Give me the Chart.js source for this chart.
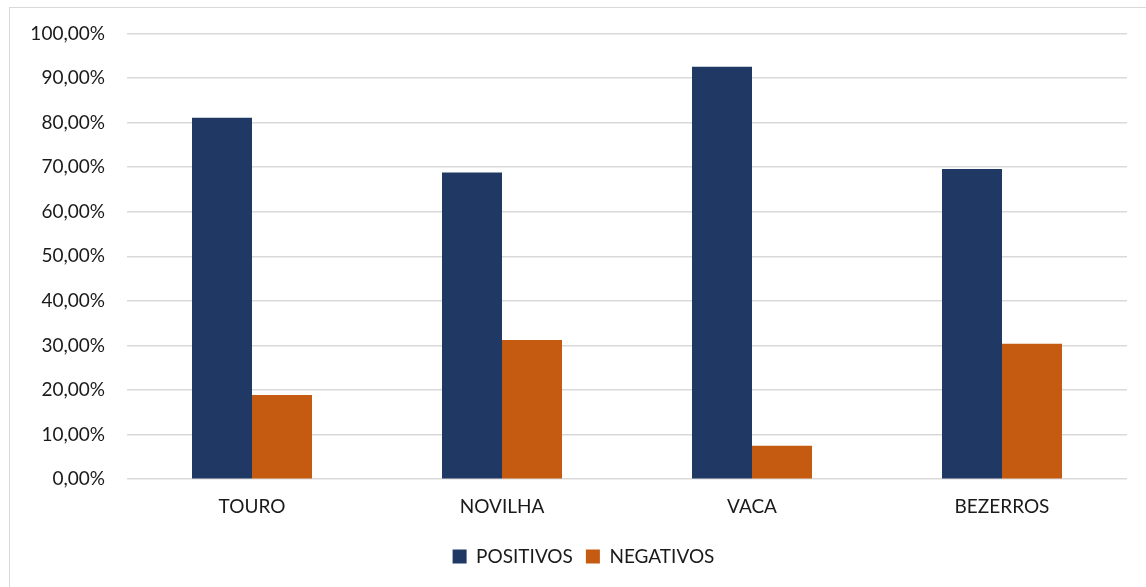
<!DOCTYPE html>
<html>
<head>
<meta charset="utf-8">
<script src="https://cdn.jsdelivr.net/npm/chart.js@4.4.1/dist/chart.umd.min.js"></script>
<style>
  html, body { margin: 0; padding: 0; background: #ffffff; }
  #wrap { position: relative; width: 1146px; height: 587px; overflow: hidden; }
  #frame { position: absolute; left: 9px; top: 7px; width: 1150px; height: 600px;
           border: 1.5px solid #d9d9d9; box-sizing: border-box; pointer-events: none; }
  canvas { position: absolute; left: 0; top: 0; }
</style>
</head>
<body>
<div id="wrap">
  <canvas id="chart" width="1146" height="587"></canvas>
  <div id="frame"></div>
</div>
<script>
// Categories and series values (percent)
const categories = ['TOURO', 'NOVILHA', 'VACA', 'BEZERROS'];
const positivos = [81.1, 68.8, 92.5, 69.6];
const negativos = [18.9, 31.2, 7.5, 30.4];
const yTicks = [0, 10, 20, 30, 40, 50, 60, 70, 80, 90, 100];

const fmt = v => v.toFixed(2).replace('.', ',') + '%';
const FONT = 'Lato, "Open Sans", sans-serif';
const TEXT = '#1a1a1a';

// Legend sits centred on the outer frame rather than on the plot area
const legendShift = {
  id: 'legendShift',
  beforeDraw(chart) {
    const lg = chart.legend;
    if (lg && !lg._shifted) { lg.left += 20; lg.right += 20; lg._shifted = true; }
  }
};

new Chart(document.getElementById('chart'), {
  type: 'bar',
  data: {
    labels: categories,
    datasets: [
      { label: 'POSITIVOS', data: positivos, backgroundColor: '#203864',
        categoryPercentage: 0.48, barPercentage: 1.0 },
      { label: 'NEGATIVOS', data: negativos, backgroundColor: '#C55A11',
        categoryPercentage: 0.48, barPercentage: 1.0 }
    ]
  },
  plugins: [legendShift],
  options: {
    responsive: false,
    animation: false,
    layout: { padding: { top: 31, right: 19, bottom: 11, left: 0 } },
    plugins: {
      tooltip: { enabled: false },
      legend: {
        position: 'bottom',
        labels: {
          boxWidth: 14, boxHeight: 14, padding: 13,
          color: TEXT, font: { family: FONT, size: 19 }
        }
      }
    },
    scales: {
      x: {
        grid: { display: false, drawTicks: false },
        border: { display: false },
        ticks: { color: TEXT, font: { family: FONT, size: 19 }, padding: 16 }
      },
      y: {
        min: 0, max: 100,
        afterFit: s => { s.width = 127; },
        afterBuildTicks: s => { s.ticks = yTicks.map(v => ({ value: v })); },
        grid: { color: '#d9d9d9', lineWidth: 1.5, drawTicks: false },
        border: { display: false },
        ticks: { color: TEXT, font: { family: FONT, size: 19 }, padding: 22,
                 callback: v => fmt(v) }
      }
    }
  }
});
</script>
</body>
</html>
